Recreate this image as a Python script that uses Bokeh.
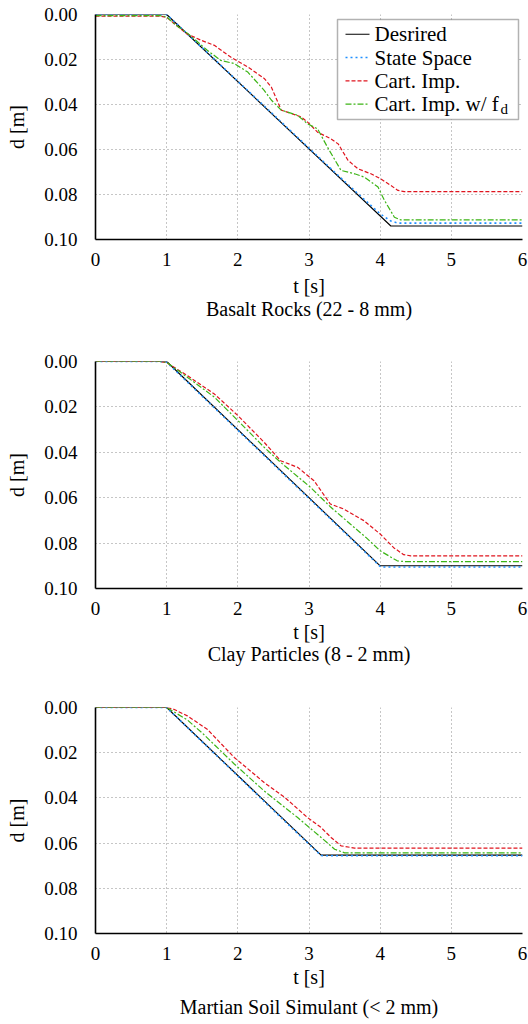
from bokeh.plotting import figure
from bokeh.layouts import column
from bokeh.models import Range1d, FixedTicker, Title, NumeralTickFormatter, BoxAnnotation
from bokeh.core.properties import value
from bokeh.embed import file_html
from bokeh.resources import INLINE

# ---------------- data ----------------
panel_names = ["Basalt Rocks (22 - 8 mm)", "Clay Particles (8 - 2 mm)", "Martian Soil Simulant (< 2 mm)"]
series_names = ["Desrired", "State Space", "Cart. Imp.", "Cart. Imp. w/ f"]
x_ticks = [0, 1, 2, 3, 4, 5, 6]
y_ticks = [0.00, 0.02, 0.04, 0.06, 0.08, 0.10]

# Basalt Rocks
t_des_1 = [0, 1, 4.15, 6]
d_des_1 = [0, 0, 0.094, 0.094]
t_ss_1 = [0, 1, 1.5, 2.0, 2.5, 3.0, 3.3, 3.5, 3.7, 4.0, 4.15, 4.25, 6]
d_ss_1 = [0, 0, 0.0148, 0.0297, 0.0445, 0.0594, 0.0683, 0.0742, 0.0800, 0.0886, 0.0918, 0.0927, 0.0927]
t_ci_1 = [0, 0.9, 1.0, 1.28, 1.48, 1.67, 1.9, 2.14, 2.37, 2.47, 2.61, 2.75, 2.89, 2.98, 3.12, 3.31,
          3.41, 3.55, 3.69, 3.87, 4.01, 4.15, 4.25, 4.34, 6]
d_ci_1 = [0.0007, 0.0007, 0.0013, 0.0085, 0.0114, 0.0137, 0.0189, 0.0233, 0.0284, 0.0322, 0.0425, 0.0440,
          0.0455, 0.0478, 0.0523, 0.0553, 0.0575, 0.0649, 0.0686, 0.0708, 0.0731, 0.0760, 0.0782, 0.0787, 0.0787]
t_cf_1 = [0, 0.9, 1.0, 1.1, 1.3, 1.57, 1.76, 1.95, 2.14, 2.37, 2.47, 2.61, 2.84, 2.98, 3.12, 3.26,
          3.45, 3.64, 3.78, 3.97, 4.06, 4.20, 4.29, 6]
d_cf_1 = [0.0005, 0.0005, 0.001, 0.004, 0.0085, 0.0159, 0.0204, 0.0218, 0.0256, 0.0337, 0.038, 0.0425,
          0.0448, 0.0486, 0.0508, 0.059, 0.0693, 0.0708, 0.0723, 0.0767, 0.0826, 0.0901, 0.0913, 0.0913]

# Clay Particles
t_des_2 = [0, 1, 4.0, 6]
d_des_2 = [0, 0, 0.09, 0.09]
t_ss_2 = [0, 0.9, 1.0, 1.5, 2.0, 2.5, 3.0, 3.5, 4.0, 4.05, 6]
d_ss_2 = [0, 0, 0.0003, 0.0153, 0.0303, 0.0453, 0.0603, 0.0753, 0.0903, 0.0905, 0.0905]
t_ci_2 = [0, 0.9, 1.0, 1.29, 1.67, 2.0, 2.37, 2.6, 2.84, 3.07, 3.30, 3.49, 3.77, 4.0, 4.19, 4.33, 4.43, 6]
d_ci_2 = [0, 0, 0.0005, 0.0062, 0.0143, 0.0238, 0.0356, 0.0437, 0.0466, 0.0525, 0.0628, 0.0650, 0.0701,
          0.0760, 0.0820, 0.0851, 0.0856, 0.0856]
t_cf_2 = [0, 0.9, 1.0, 1.29, 1.67, 2.0, 2.37, 2.6, 3.02, 3.30, 3.58, 3.8, 4.0, 4.24, 4.35, 6]
d_cf_2 = [0, 0, 0.0004, 0.0069, 0.0157, 0.026, 0.0378, 0.0444, 0.0554, 0.064, 0.0716, 0.0775, 0.0834,
          0.0878, 0.0882, 0.0882]

# Martian Soil Simulant
t_des_3 = [0, 1, 3.17, 6]
d_des_3 = [0, 0, 0.0653, 0.0653]
t_ss_3 = [0, 1, 1.5, 2.0, 2.5, 3.0, 3.17, 3.2, 6]
d_ss_3 = [0, 0, 0.0152, 0.0303, 0.0455, 0.0605, 0.0655, 0.0656, 0.0656]
t_ci_3 = [0, 1.0, 1.1, 1.29, 1.57, 1.95, 2.37, 2.66, 2.98, 3.17, 3.31, 3.45, 3.64, 6]
d_ci_3 = [0, 0, 0.0008, 0.0037, 0.0096, 0.0221, 0.0332, 0.0398, 0.0487, 0.0531, 0.0575, 0.0612, 0.0622, 0.0622]
t_cf_3 = [0, 1.0, 1.29, 1.5, 1.95, 2.37, 2.84, 3.17, 3.36, 3.5, 6]
d_cf_3 = [0, 0, 0.0055, 0.0113, 0.025, 0.0369, 0.0487, 0.0575, 0.0627, 0.0643, 0.0643]

panels = [
    [(t_des_1, d_des_1), (t_ss_1, d_ss_1), (t_ci_1, d_ci_1), (t_cf_1, d_cf_1)],
    [(t_des_2, d_des_2), (t_ss_2, d_ss_2), (t_ci_2, d_ci_2), (t_cf_2, d_cf_2)],
    [(t_des_3, d_des_3), (t_ss_3, d_ss_3), (t_ci_3, d_ci_3), (t_cf_3, d_cf_3)],
]

# ---------------- style ----------------
FONT = "Liberation Serif"
colors = ["black", "#1f8fff", "#e0141e", "#3cb416"]
dashes = ["solid", "2 3", "4 2", "6 2 2 2"]
widths = [1.1, 1.6, 1.2, 1.2]

W = 528
LEFT = 95
FRAME_W = 427
X_MAX, Y_MAX = 6.0, 0.10
layout_spec = [  # (fig height, frame height, top border, t-label standoff, subtitle standoff)
    (351, 225, 14, 6, -8),
    (346, 227, 10, 3, -9),
    (327, 226, 10, 3, 6),
]


def make_panel(i):
    fig_h, frame_h, top, t_standoff, sub_standoff = layout_spec[i]
    p = figure(width=W, height=fig_h, output_backend="svg", toolbar_location=None,
               x_range=Range1d(0, X_MAX), y_range=Range1d(Y_MAX, 0.0),
               min_border_left=LEFT, min_border_right=W - LEFT - FRAME_W,
               min_border_top=top, min_border_bottom=fig_h - top - frame_h,
               outline_line_color=None, background_fill_color="white")
    for k, (tt, dd) in enumerate(panels[i]):
        p.line(tt, dd, line_color=colors[k], line_dash=dashes[k], line_width=widths[k])

    p.xaxis.ticker = FixedTicker(ticks=x_ticks)
    p.yaxis.ticker = FixedTicker(ticks=y_ticks)
    p.yaxis.formatter = NumeralTickFormatter(format="0.00")
    for axes in (p.xaxis, p.yaxis):
        for ax in axes:
            ax.axis_line_width = 1.6
            ax.axis_line_color = "black"
            ax.major_tick_line_color = None
            ax.minor_tick_line_color = None
            ax.major_label_text_font = FONT
            ax.major_label_text_font_size = "19px"
            ax.major_label_text_color = "black"
            ax.axis_label_text_font = FONT
            ax.axis_label_text_font_size = "20px"
            ax.axis_label_text_font_style = "normal"
            ax.axis_label_text_color = "black"
    p.xaxis.axis_label = "t [s]"
    p.yaxis.axis_label = "d [m]"
    p.xaxis.major_label_standoff = 7
    p.xaxis.axis_label_standoff = t_standoff
    p.yaxis.major_label_standoff = 12
    p.yaxis.axis_label_standoff = 13

    for g in (p.xgrid, p.ygrid):
        g.grid_line_color = "#8c8c8c"
        g.grid_line_dash = "1 3"
        g.grid_line_width = 1
    p.xgrid.ticker = FixedTicker(ticks=x_ticks)
    p.ygrid.ticker = FixedTicker(ticks=y_ticks)

    sub = Title(text=panel_names[i], align="center", text_font=FONT, text_font_size="20px",
                text_font_style="normal", text_color="black", standoff=sub_standoff)
    p.add_layout(sub, "below")

    if i == 0:
        # legend drawn by hand (box, sample lines, labels); pixel layout -> data via frame geometry
        f_left, f_top = LEFT, top
        def px2x(px):
            return (px - f_left) / FRAME_W * X_MAX
        def px2y(py):
            return (py - f_top) / frame_h * Y_MAX
        box = BoxAnnotation(left=px2x(337), right=px2x(518), top=px2y(19), bottom=px2y(119),
                            fill_color="white", fill_alpha=1.0, line_color="black",
                            line_width=1.5, level="underlay")
        p.add_layout(box)
        centers = [33.7, 57.0, 80.3, 103.7]
        for k, c in enumerate(centers):
            p.line([px2x(345), px2x(369)], [px2y(c), px2y(c)], line_color=colors[k],
                   line_dash=dashes[k], line_width=widths[k])
        p.text(x=[px2x(374)] * 4, y=[px2y(c) for c in centers], text=series_names,
               text_font=value(FONT), text_font_size="21px", text_color="black",
               text_baseline="middle", text_align="left")
        p.text(x=[px2x(500)], y=[px2y(108.5)], text=["d"],
               text_font=value(FONT), text_font_size="15px", text_color="black",
               text_baseline="middle", text_align="left")
    return p


figs = [make_panel(i) for i in range(3)]
page = column(*figs, spacing=0)

open("out.html", "w").write(file_html(page, INLINE))
